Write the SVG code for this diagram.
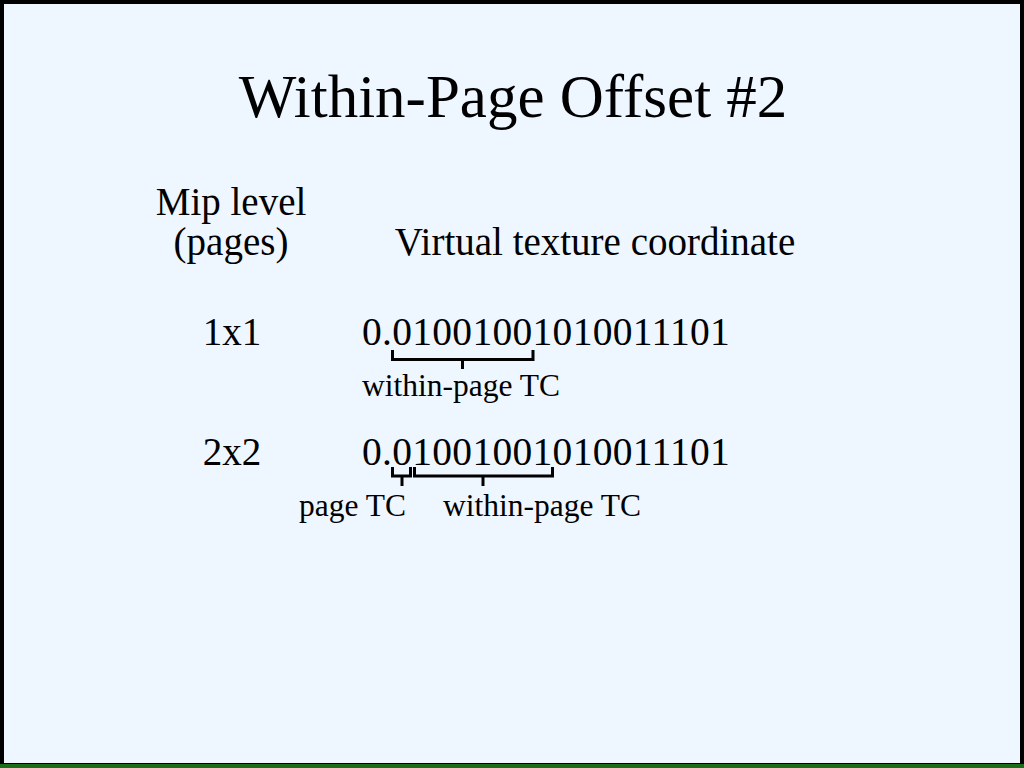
<svg xmlns="http://www.w3.org/2000/svg" width="1024" height="768" viewBox="0 0 1024 768">
  <style>
    text { font-family: "Liberation Serif", "Times New Roman", serif; fill: #000; }
    .title { font-size: 61px; }
    .body { font-size: 39px; }
    .bits { font-size: 39.5px; letter-spacing: 0.3px; }
    .small { font-size: 31.5px; }
    .brace { fill: none; stroke: #000; stroke-width: 3; }
  </style>
  <!-- slide frame -->
  <rect x="0" y="0" width="1024" height="768" fill="#000"/>
  <rect x="4" y="4" width="1016" height="759" fill="#EEF6FF"/>
  <rect x="0" y="764" width="1024" height="4" fill="#1a6e1a"/>

  <text class="title" x="513" y="117" text-anchor="middle">Within-Page Offset #2</text>

  <g id="headers">
    <text class="body" x="231" y="215" text-anchor="middle">Mip level</text>
    <text class="body" x="231" y="255" text-anchor="middle">(pages)</text>
    <text class="body" x="595" y="255" text-anchor="middle">Virtual texture coordinate</text>
  </g>

  <g id="row-1x1">
    <text class="body" x="232" y="345" text-anchor="middle">1x1</text>
    <text class="bits" x="362" y="345">0.01001001010011101</text>
    <text class="small" x="362" y="396">within-page TC</text>
  </g>

  <g id="row-2x2">
    <text class="body" x="232" y="465" text-anchor="middle">2x2</text>
    <text class="bits" x="362" y="465">0.01001001010011101</text>
    <text class="small" x="299" y="516">page TC</text>
    <text class="small" x="443" y="516">within-page TC</text>
  </g>

  <g id="connectors">
    <path class="brace" d="M392.5,350 V359.5 H533 V350 M462.5,359.5 V369"/>
    <path class="brace" d="M392.5,467 V476 H410.5 V467 M402,476 V486"/>
    <path class="brace" d="M414.5,467 V476 H552.5 V467 M483,476 V486"/>
  </g>
</svg>
